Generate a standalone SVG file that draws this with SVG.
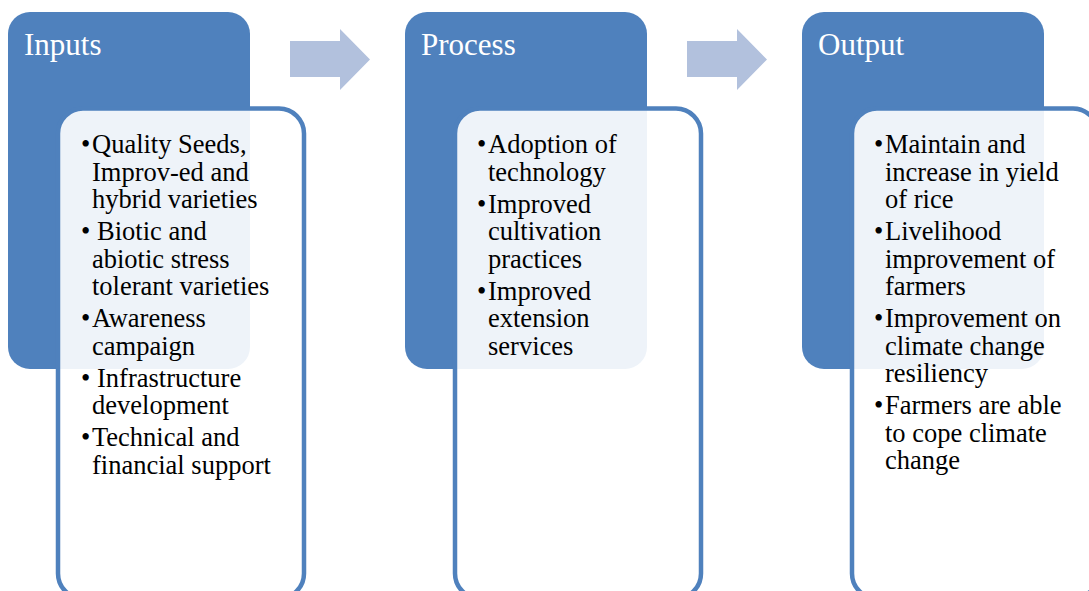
<svg xmlns="http://www.w3.org/2000/svg" width="1089" height="591" viewBox="0 0 1089 591">
<style>
.head{fill:#4F81BD}
.card{fill:#FFFFFF;fill-opacity:0.9;stroke:#4F81BD;stroke-width:4.5}
.title{font-family:"Liberation Serif","Times New Roman",serif;font-size:31px;fill:#FFFFFF}
.txt{font-family:"Liberation Serif","Times New Roman",serif;font-size:26.5px;fill:#000000}
.arrow{fill:#B2C1DD}
</style>
<rect width="1089" height="591" fill="#FFFFFF"/>
<g id="connectors">
<polygon class="arrow" points="290,41 340,41 340,29 370,59.5 340,90 340,77 290,77"/>
<polygon class="arrow" points="687,41 737,41 737,29 767,59.5 737,90 737,77 687,77"/>
</g>
<g id="inputs">
<rect class="head" x="8" y="12" width="242" height="357" rx="22"/>
<text class="title" x="24" y="55">Inputs</text>
<rect class="card" x="58" y="108.5" width="246" height="490" rx="25"/>
<text class="txt">
<tspan x="81" y="153">•</tspan><tspan x="92" y="153">Quality Seeds,</tspan>
<tspan x="92" y="180.5">Improv-ed and</tspan>
<tspan x="92" y="208">hybrid varieties</tspan>
<tspan x="81" y="240">•</tspan><tspan x="97" y="240">Biotic and</tspan>
<tspan x="92" y="267.5">abiotic stress</tspan>
<tspan x="92" y="295">tolerant varieties</tspan>
<tspan x="81" y="327">•</tspan><tspan x="92" y="327">Awareness</tspan>
<tspan x="92" y="354.5">campaign</tspan>
<tspan x="81" y="386.5">•</tspan><tspan x="97" y="386.5">Infrastructure</tspan>
<tspan x="92" y="414">development</tspan>
<tspan x="81" y="446">•</tspan><tspan x="92" y="446">Technical and</tspan>
<tspan x="92" y="473.5">financial support</tspan>
</text>
</g>
<g id="process">
<rect class="head" x="405" y="12" width="242" height="357" rx="22"/>
<text class="title" x="421" y="55">Process</text>
<rect class="card" x="455" y="108.5" width="246" height="490" rx="25"/>
<text class="txt">
<tspan x="477" y="153">•</tspan><tspan x="488" y="153">Adoption of</tspan>
<tspan x="488" y="180.5">technology</tspan>
<tspan x="477" y="212.5">•</tspan><tspan x="488" y="212.5">Improved</tspan>
<tspan x="488" y="240">cultivation</tspan>
<tspan x="488" y="267.5">practices</tspan>
<tspan x="477" y="299.5">•</tspan><tspan x="488" y="299.5">Improved</tspan>
<tspan x="488" y="327">extension</tspan>
<tspan x="488" y="354.5">services</tspan>
</text>
</g>
<g id="output">
<rect class="head" x="802" y="12" width="242" height="357" rx="22"/>
<text class="title" x="818" y="55">Output</text>
<rect class="card" x="852" y="108.5" width="246" height="490" rx="25"/>
<text class="txt">
<tspan x="874" y="153">•</tspan><tspan x="885" y="153">Maintain and</tspan>
<tspan x="885" y="180.5">increase in yield</tspan>
<tspan x="885" y="208">of rice</tspan>
<tspan x="874" y="240">•</tspan><tspan x="885" y="240">Livelihood</tspan>
<tspan x="885" y="267.5">improvement of</tspan>
<tspan x="885" y="295">farmers</tspan>
<tspan x="874" y="327">•</tspan><tspan x="885" y="327">Improvement on</tspan>
<tspan x="885" y="354.5">climate change</tspan>
<tspan x="885" y="382">resiliency</tspan>
<tspan x="874" y="414">•</tspan><tspan x="885" y="414">Farmers are able</tspan>
<tspan x="885" y="441.5">to cope climate</tspan>
<tspan x="885" y="469">change</tspan>
</text>
</g>
</svg>
